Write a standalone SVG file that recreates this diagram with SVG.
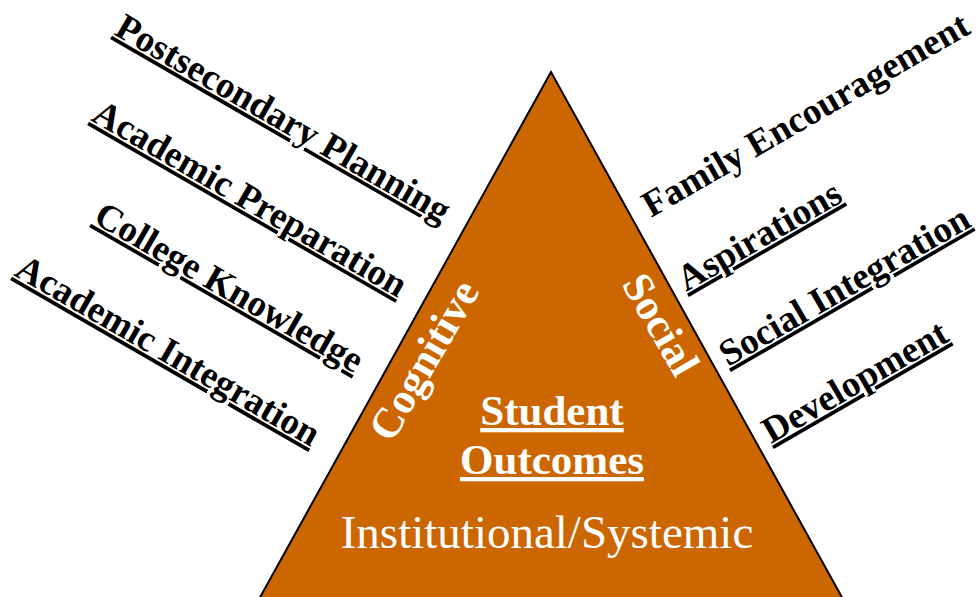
<svg xmlns="http://www.w3.org/2000/svg" width="979" height="597" viewBox="0 0 979 597">
  <style>
    .lbl { font-family: "Liberation Serif", "Times New Roman", serif; font-weight: bold; font-size: 37px; fill: #000; }
    .ul { text-decoration: underline; text-decoration-thickness: 3px; text-underline-offset: 4px; text-decoration-skip-ink: none; }
    .side { font-family: "Liberation Serif", "Times New Roman", serif; font-weight: bold; font-size: 43px; fill: #fff; }
    .center { font-family: "Liberation Serif", "Times New Roman", serif; font-weight: bold; font-size: 43px; fill: #fff; text-anchor: middle; text-decoration: underline; text-decoration-thickness: 3px; text-underline-offset: 5px; text-decoration-skip-ink: none; }
    .base { font-family: "Liberation Serif", "Times New Roman", serif; font-size: 47px; fill: #fff; text-anchor: middle; }
  </style>

  <rect width="979" height="597" fill="#fff"/>

  <!-- pyramid -->
  <g id="pyramid">
    <polygon points="551,72 253,610 849,610" fill="#CC6600" stroke="#000" stroke-width="2" stroke-linejoin="miter"/>
    <text class="side" transform="translate(392,444) rotate(-60)">Cognitive</text>
    <text class="side" transform="translate(621,284) rotate(60)">Social</text>
    <text class="center" x="552" y="425">Student</text>
    <text class="center" x="552" y="474">Outcomes</text>
    <text class="base" x="547" y="548">Institutional/Systemic</text>
  </g>

  <!-- cognitive factors -->
  <g id="postsecondary-planning">
    <text class="lbl ul" transform="translate(113,34) rotate(30)">Postsecondary Planning</text>
  </g>
  <g id="academic-preparation">
    <text class="lbl ul" transform="translate(90,120) rotate(30)">Academic Preparation</text>
  </g>
  <g id="college-knowledge">
    <text class="lbl ul" transform="translate(92,222) rotate(30)">College Knowledge</text>
  </g>
  <g id="academic-integration">
    <text class="lbl ul" transform="translate(13,275) rotate(30)">Academic Integration</text>
  </g>

  <!-- social factors -->
  <g id="family-encouragement">
    <text class="lbl" transform="translate(651,218) rotate(-30)">Family Encouragement</text>
  </g>
  <g id="aspirations">
    <text class="lbl ul" transform="translate(686,292) rotate(-30)">Aspirations</text>
  </g>
  <g id="social-integration">
    <text class="lbl ul" transform="translate(728,367) rotate(-30)">Social Integration</text>
  </g>
  <g id="development">
    <text class="lbl ul" transform="translate(771,444) rotate(-30)">Development</text>
  </g>

  <g id="connectors"></g>
</svg>
